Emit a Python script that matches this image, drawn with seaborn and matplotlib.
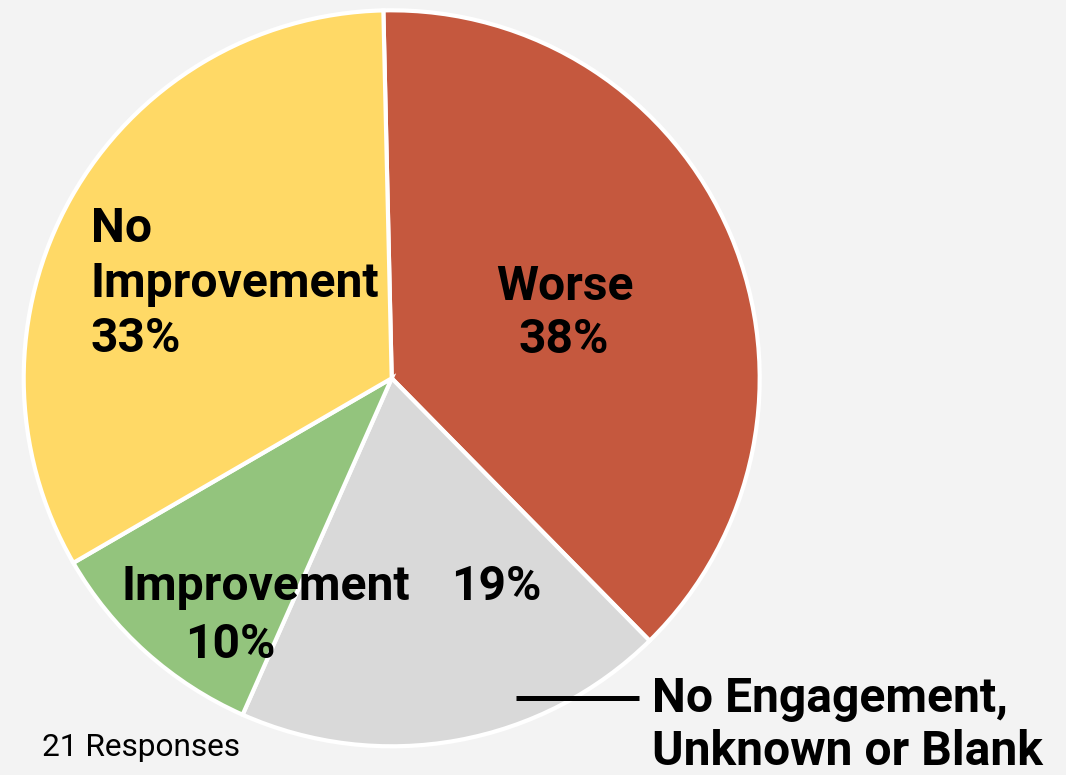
import matplotlib
matplotlib.use("Agg")
import matplotlib.pyplot as plt
from matplotlib.lines import Line2D
import seaborn as sns

# Survey outcome shares (percent), clockwise from the top
categories = ["Worse", "No Engagement, Unknown or Blank", "Improvement", "No Improvement"]
shares = [38, 19, 10, 33]
slice_colors = ["#C5583E", "#D9D9D9", "#93C47D", "#FFD966"]
responses = 21

sns.set_theme(style="white")
plt.rcParams["font.family"] = ["Roboto", "DejaVu Sans"]

W, H = 1066, 775
bg = "#F3F3F3"
fig = plt.figure(figsize=(W / 100, H / 100), dpi=100, facecolor=bg)

# pie centre and radius in pixels
cx, cy, r = 391.7, 378.3, 368
ax = fig.add_axes([(cx - r) / W, (H - cy - r) / H, 2 * r / W, 2 * r / H])
ax.set_facecolor(bg)
palette = sns.color_palette(slice_colors)
ax.pie(shares, colors=palette, startangle=91.3, counterclock=False,
       wedgeprops=dict(edgecolor="white", linewidth=3), radius=1)
ax.set_xlim(-1, 1)
ax.set_ylim(-1, 1)
ax.axis("off")

LABEL_SIZE = 34.6


def put(x, y, s, ha="left", size=LABEL_SIZE, weight="bold"):
    fig.text(x / W, 1 - y / H, s, ha=ha, va="baseline", fontsize=size,
             fontweight=weight, color="black")


pct = {c: f"{v}%" for c, v in zip(categories, shares)}

# No Improvement
put(91, 242, "No")
put(91, 297, "Improvement")
put(91, 352, pct["No Improvement"])
# Worse
put(565, 300, "Worse", ha="center")
put(564, 353, pct["Worse"], ha="center")
# Improvement
put(266, 600, "Improvement", ha="center")
put(230, 658, pct["Improvement"], ha="center")
# No Engagement
put(496, 600, pct["No Engagement, Unknown or Blank"], ha="center")
put(652, 712, "No Engagement,")
put(652, 765, "Unknown or Blank")
fig.add_artist(Line2D([516 / W, 639 / W], [1 - 698.3 / H] * 2, color="black",
                      lw=3.6, solid_capstyle="butt", transform=fig.transFigure))

put(42, 756, f"{responses} Responses", size=22.8, weight="normal")

fig.savefig("out.png", dpi=100, facecolor=bg)
